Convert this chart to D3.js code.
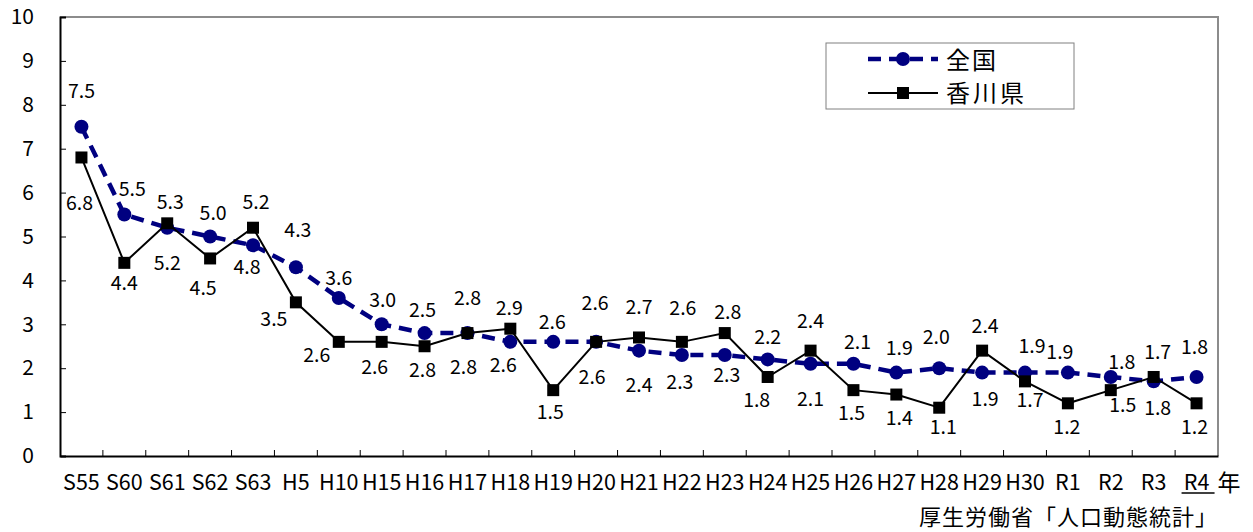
<!DOCTYPE html>
<html><head><meta charset="utf-8">
<script src="https://cdn.jsdelivr.net/npm/d3@7"></script>
<style>
html,body{margin:0;padding:0;background:#fff;}
svg{display:block;font-family:"Noto Sans CJK JP","Noto Sans",sans-serif;}
</style></head>
<body>
<svg id="chart" width="1253" height="532"></svg>
<script>
const categories = ["S55","S60","S61","S62","S63","H5","H10","H15","H16","H17","H18","H19","H20","H21","H22","H23","H24","H25","H26","H27","H28","H29","H30","R1","R2","R3","R4"];
const national = [7.5,5.5,5.2,5.0,4.8,4.3,3.6,3.0,2.8,2.8,2.6,2.6,2.6,2.4,2.3,2.3,2.2,2.1,2.1,1.9,2.0,1.9,1.9,1.9,1.8,1.7,1.8];
const kagawa   = [6.8,4.4,5.3,4.5,5.2,3.5,2.6,2.6,2.5,2.8,2.9,1.5,2.6,2.7,2.6,2.8,1.8,2.4,1.5,1.4,1.1,2.4,1.7,1.2,1.5,1.8,1.2];
const yTicks = [0,1,2,3,4,5,6,7,8,9,10];
const seriesNames = ["全国","香川県"];
const unitLabel = "年";
const sourceLabel = "厚生労働省「人口動態統計」";

// label offsets (px) relative to each point
const natLabelDx = [0,8,0,3,-6,2,0,1,-2,-4,-7,-1,-1,0,-2,2,0,0,4,3,-3,3,7,-8,11,4,-2];
const natLabelDy = [-36,-25,35,-23,22,-37,-20,-24,37,34,23,-20,-39,35,27,20,-22,35,-22,-24,-31,27,-26,-20,-15,-29,-30];
const kagLabelDx = [-2,0,3,-7,3,-22,-22,-7,-2,0,-1,-3,-4,0,1,3,-11,0,-2,3,4,3,5,-1,12,4,-2];
const kagLabelDy = [46,20,-21,30,-26,17,13,25,-36,-35,-21,22,35,-30,-34,-21,23,-29,23,24,19,-24,19,24,15,31,24];

const svg = d3.select("#chart");
const L = 60, R = 1218, T = 17, B = 456;
const x = d3.scaleBand().domain(categories).range([L, R]).padding(0);
const y = d3.scaleLinear().domain([0, 10]).range([B, T]);
const cx = c => x(c) + x.bandwidth() / 2;
const FONT = '"Noto Sans CJK JP",sans-serif';

// frame top/right grey
svg.append("path").attr("d", `M${L},${T}H${R}V${B}`).attr("fill","none").attr("stroke","#8c8c8c").attr("stroke-width",2);

// y axis
const yAxis = svg.append("g").attr("transform", `translate(${L},0)`)
  .call(d3.axisLeft(y).tickValues(yTicks).tickSize(-6).tickPadding(26).tickFormat(d3.format("d")));
yAxis.select(".domain").attr("stroke","#000").attr("stroke-width",2);
yAxis.selectAll(".tick line").attr("stroke","#000").attr("stroke-width",1);
yAxis.selectAll("text").attr("font-size",21).attr("fill","#000").attr("font-family",FONT);

// x axis
const xAxis = svg.append("g").attr("transform", `translate(0,${B})`)
  .call(d3.axisBottom(x).tickSize(0).tickPadding(19));
xAxis.select(".domain").attr("stroke","#000").attr("stroke-width",2);
xAxis.selectAll("text").attr("font-size",21.5).attr("fill","#000").attr("font-family",FONT);
// x ticks at category boundaries (inside)
svg.append("g").selectAll("line").data(categories.slice(1))
  .join("line")
  .attr("x1", d => x(d)).attr("x2", d => x(d))
  .attr("y1", B).attr("y2", B - 6)
  .attr("stroke","#000").attr("stroke-width",1);
// underline under last category
const last = categories[categories.length-1];
svg.append("line").attr("x1", cx(last) - 15).attr("x2", cx(last) + 18)
  .attr("y1", B + 37).attr("y2", B + 37).attr("stroke","#000").attr("stroke-width",1.5);
svg.append("text").attr("x", R + 11).attr("y", B + 27).attr("dy","0.35em")
  .attr("text-anchor","middle").attr("font-size",23).text(unitLabel);
svg.append("text").attr("x", R).attr("y", 517).attr("dy","0.35em")
  .attr("text-anchor","end").attr("font-size",22).attr("letter-spacing",1).text(sourceLabel);

// national line
const natColor = "#000080";
const line = d3.line().x((d,i) => cx(categories[i])).y(d => y(d));
svg.append("path").datum(national).attr("d", line)
  .attr("fill","none").attr("stroke",natColor).attr("stroke-width",4.5).attr("stroke-dasharray","13,8");
svg.append("g").selectAll("circle").data(national).join("circle")
  .attr("cx",(d,i)=>cx(categories[i])).attr("cy",d=>y(d)).attr("r",7).attr("fill",natColor);

// kagawa line
svg.append("path").datum(kagawa).attr("d", line)
  .attr("fill","none").attr("stroke","#000").attr("stroke-width",2);
const sq = 12;
svg.append("g").selectAll("rect").data(kagawa).join("rect")
  .attr("x",(d,i)=>cx(categories[i]) - sq/2).attr("y",d=>y(d)-sq/2)
  .attr("width",sq).attr("height",sq).attr("fill","#000");

// labels
const fmt = d3.format(".1f");
svg.append("g").selectAll("text").data(national).join("text")
  .attr("x",(d,i)=>cx(categories[i]) + natLabelDx[i]).attr("y",(d,i)=>y(d) + natLabelDy[i])
  .attr("dy","0.35em").attr("text-anchor","middle").attr("font-size",19.5).text(d=>fmt(d));
svg.append("g").selectAll("text").data(kagawa).join("text")
  .attr("x",(d,i)=>cx(categories[i]) + kagLabelDx[i]).attr("y",(d,i)=>y(d) + kagLabelDy[i])
  .attr("dy","0.35em").attr("text-anchor","middle").attr("font-size",19.5).text(d=>fmt(d));

// legend
const lg = svg.append("g");
lg.append("rect").attr("x",826).attr("y",43).attr("width",248).attr("height",66)
  .attr("fill","#fff").attr("stroke","#808080").attr("stroke-width",1);
lg.append("line").attr("x1",868).attr("x2",938).attr("y1",59).attr("y2",59)
  .attr("stroke",natColor).attr("stroke-width",4.5).attr("stroke-dasharray","13,8");
lg.append("circle").attr("cx",903).attr("cy",59).attr("r",7).attr("fill",natColor);
lg.append("line").attr("x1",868).attr("x2",938).attr("y1",93).attr("y2",93)
  .attr("stroke","#000").attr("stroke-width",2);
lg.append("rect").attr("x",903-sq/2).attr("y",93-sq/2).attr("width",sq).attr("height",sq).attr("fill","#000");
lg.append("text").attr("x",946).attr("y",61).attr("dy","0.35em").attr("font-size",24).attr("letter-spacing",2).text(seriesNames[0]);
lg.append("text").attr("x",946).attr("y",94).attr("dy","0.35em").attr("font-size",24).attr("letter-spacing",3).text(seriesNames[1]);
</script>
</body></html>
